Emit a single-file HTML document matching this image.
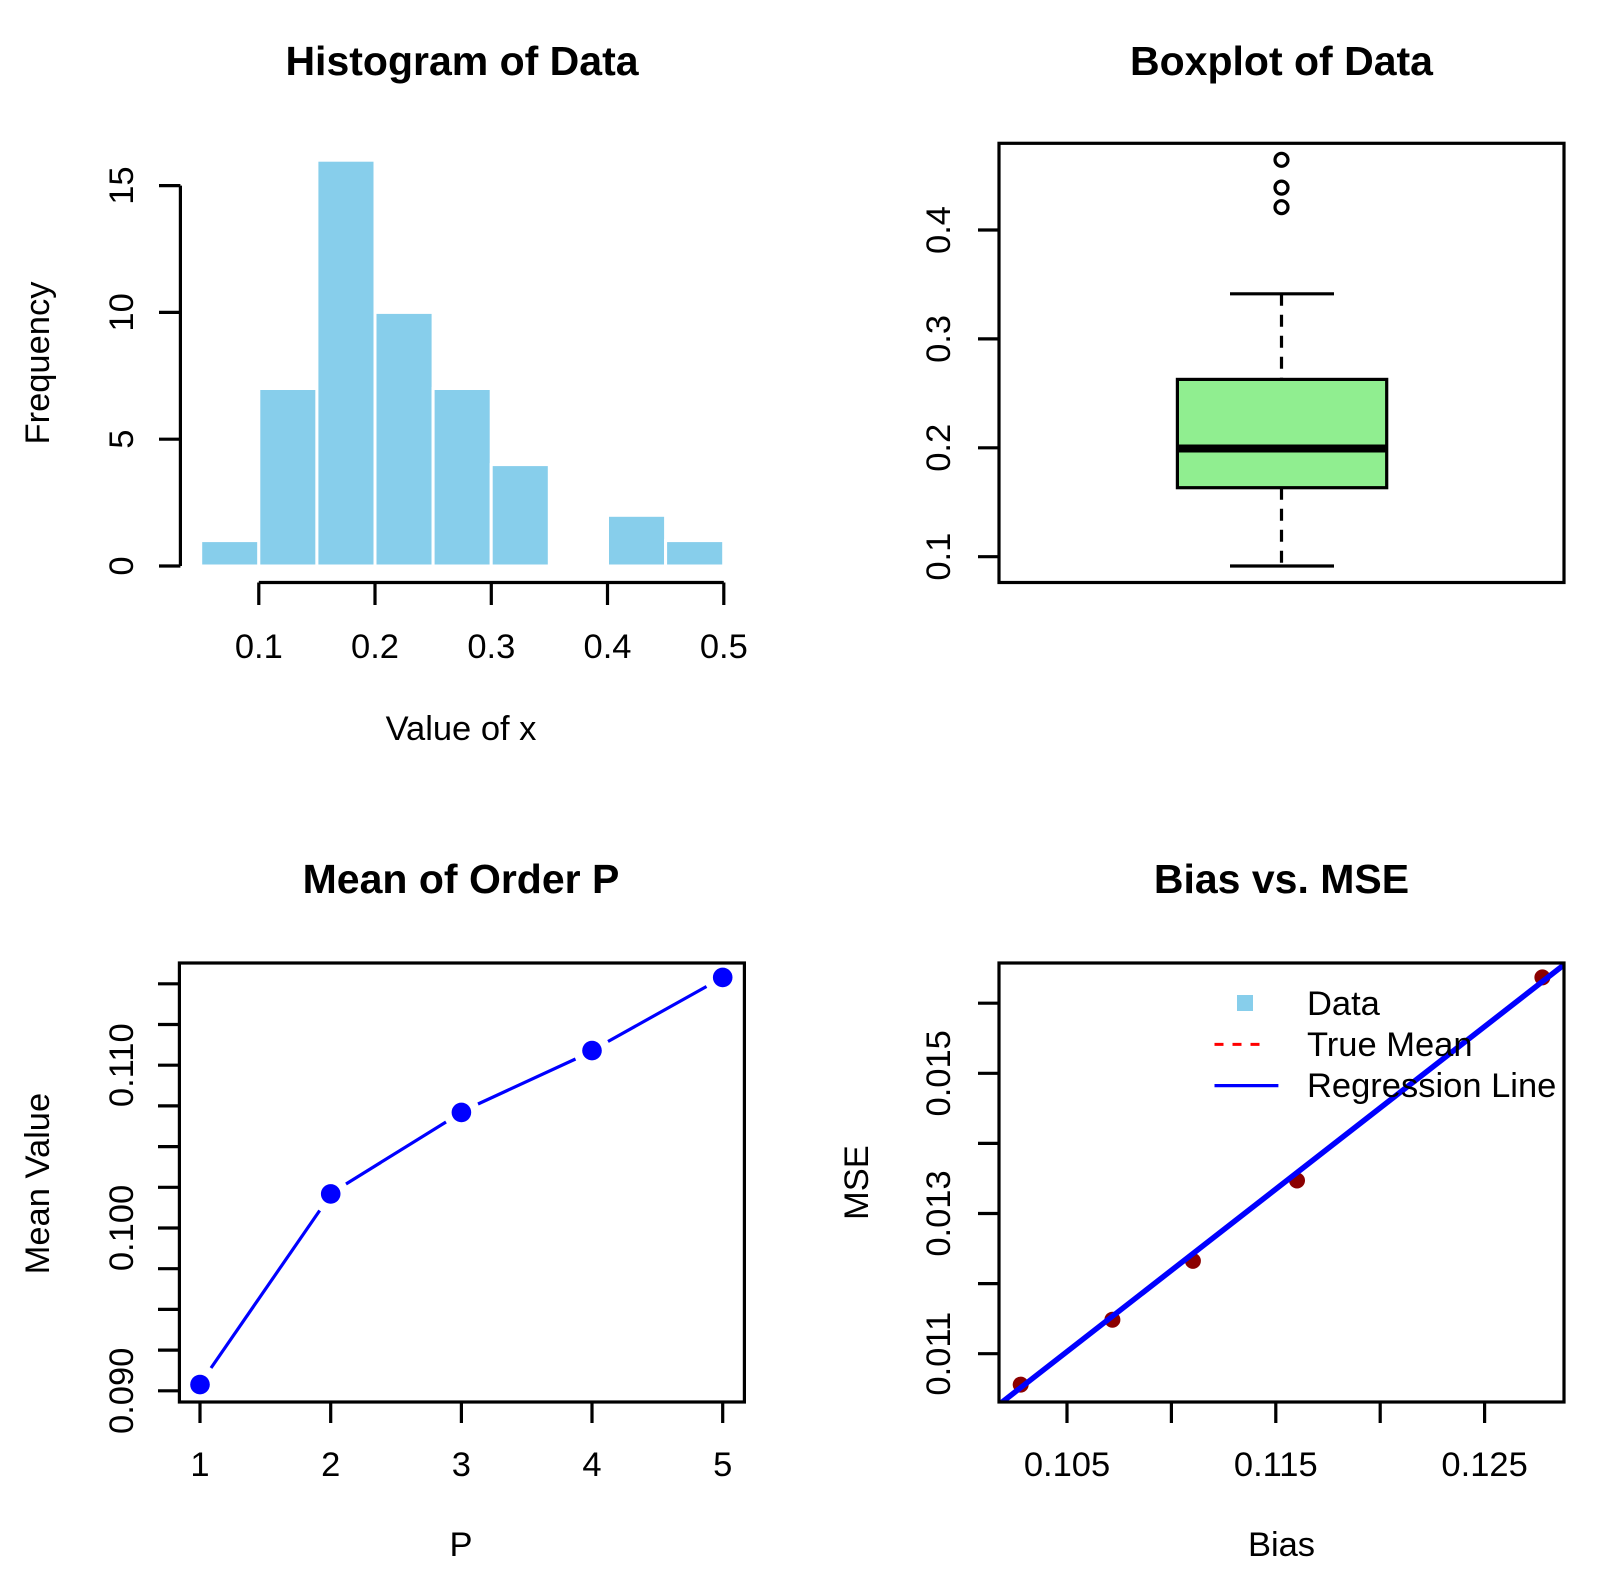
<!DOCTYPE html>
<html><head><meta charset="utf-8"><style>
html,body{margin:0;padding:0;background:#fff;}
svg{display:block;}
text{font-family:"Liberation Sans",Arial,sans-serif;fill:#000;}
.t{font-weight:bold;font-size:41px;}
.l{font-size:34.5px;}
</style></head><body>
<svg width="1616" height="1587" viewBox="0 0 1616 1587" xmlns="http://www.w3.org/2000/svg">
<rect width="1616" height="1587" fill="#fff"/>

<!-- Panel 1: Histogram -->
<text class="t" x="462" y="75" text-anchor="middle">Histogram of Data</text>
<g fill="#87CEEB" stroke="#fff" stroke-width="3">
<rect x="200.7" y="540.6" width="58.1" height="25.4"/>
<rect x="258.8" y="388.5" width="58.1" height="177.5"/>
<rect x="316.9" y="160.2" width="58.1" height="405.8"/>
<rect x="375.0" y="312.4" width="58.1" height="253.6"/>
<rect x="433.1" y="388.5" width="58.1" height="177.5"/>
<rect x="491.2" y="464.6" width="58.1" height="101.4"/>
<rect x="607.5" y="515.3" width="58.1" height="50.7"/>
<rect x="665.6" y="540.6" width="58.1" height="25.4"/>
</g>
<g stroke="#000" stroke-width="3.2" fill="none">
<path d="M180.4,566 V185.6 M159,566 H180.4 M159,439.2 H180.4 M159,312.4 H180.4 M159,185.6 H180.4"/>
<path d="M258.8,582.5 H723.8 M258.8,582.5 V605 M375,582.5 V605 M491.3,582.5 V605 M607.5,582.5 V605 M723.8,582.5 V605"/>
</g>
<g class="l" text-anchor="middle">
<text x="258.8" y="658">0.1</text><text x="375" y="658">0.2</text><text x="491.3" y="658">0.3</text><text x="607.5" y="658">0.4</text><text x="723.8" y="658">0.5</text>
<text x="461" y="740">Value of x</text>
<text transform="translate(133,566) rotate(-90)">0</text>
<text transform="translate(133,439.2) rotate(-90)">5</text>
<text transform="translate(133,312.4) rotate(-90)">10</text>
<text transform="translate(133,185.6) rotate(-90)">15</text>
<text transform="translate(49,363) rotate(-90)">Frequency</text>
</g>

<!-- Panel 2: Boxplot -->
<text class="t" x="1281.5" y="75" text-anchor="middle">Boxplot of Data</text>
<rect x="999" y="143.3" width="565" height="439.2" fill="none" stroke="#000" stroke-width="3.2"/>
<g stroke="#000" stroke-width="3.2" fill="none">
<path d="M978,556.7 H999 M978,447.8 H999 M978,338.9 H999 M978,230 H999"/>
<path d="M1281.5,487.7 V566 M1281.5,293.8 V379.4" stroke-dasharray="12,9"/>
<path d="M1230,566 H1334 M1230,293.8 H1334"/>
<rect x="1177.4" y="379.4" width="209.3" height="108.3" fill="#90EE90"/>
<circle cx="1281.5" cy="159.8" r="6.5"/><circle cx="1281.5" cy="187.6" r="6.5"/><circle cx="1281.5" cy="207.2" r="6.5"/>
</g>
<path d="M1177.4,448.5 H1386.7" stroke="#000" stroke-width="8"/>
<g class="l" text-anchor="middle">
<text transform="translate(950,556.7) rotate(-90)">0.1</text>
<text transform="translate(950,447.8) rotate(-90)">0.2</text>
<text transform="translate(950,338.9) rotate(-90)">0.3</text>
<text transform="translate(950,230) rotate(-90)">0.4</text>
</g>

<!-- Panel 3: Mean of Order P -->
<text class="t" x="461" y="893" text-anchor="middle">Mean of Order P</text>
<rect x="179.4" y="963" width="565" height="439" fill="none" stroke="#000" stroke-width="3.2"/>
<g stroke="#000" stroke-width="3.2" fill="none">
<path d="M200,1402 V1423 M330.7,1402 V1423 M461.4,1402 V1423 M592,1402 V1423 M722.7,1402 V1423"/>
<path d="M158,1390.8 H179.4 M158,1350.1 H179.4 M158,1309.4 H179.4 M158,1268.7 H179.4 M158,1228 H179.4 M158,1187.3 H179.4 M158,1146.6 H179.4 M158,1105.9 H179.4 M158,1065.2 H179.4 M158,1024.5 H179.4 M158,983.8 H179.4"/>
</g>
<g stroke="#0000FF" stroke-width="3.2" fill="none">
<path d="M211,1368 L319.7,1210.5"/>
<path d="M346,1184 L446,1122"/>
<path d="M478,1104 L575.5,1059"/>
<path d="M608,1041.5 L706.5,986.5"/>
</g>
<g fill="#0000FF">
<circle cx="200" cy="1384.6" r="9.8"/><circle cx="330.7" cy="1193.9" r="9.8"/><circle cx="461.4" cy="1112.4" r="9.8"/><circle cx="592" cy="1050.6" r="9.8"/><circle cx="722.7" cy="977.4" r="9.8"/>
</g>
<g class="l" text-anchor="middle">
<text x="200" y="1476">1</text><text x="330.7" y="1476">2</text><text x="461.4" y="1476">3</text><text x="592" y="1476">4</text><text x="722.7" y="1476">5</text>
<text x="461" y="1556">P</text>
<text transform="translate(133,1390.8) rotate(-90)">0.090</text>
<text transform="translate(133,1228) rotate(-90)">0.100</text>
<text transform="translate(133,1065.2) rotate(-90)">0.110</text>
<text transform="translate(49,1183.6) rotate(-90)">Mean Value</text>
</g>

<!-- Panel 4: Bias vs. MSE -->
<text class="t" x="1281.5" y="893" text-anchor="middle">Bias vs. MSE</text>
<g stroke="#000" stroke-width="3.2" fill="none">
<path d="M1067,1402 V1423 M1171.4,1402 V1423 M1275.8,1402 V1423 M1380.2,1402 V1423 M1484.6,1402 V1423"/>
<path d="M978,1353.7 H999 M978,1283.6 H999 M978,1213.5 H999 M978,1143.4 H999 M978,1073.3 H999 M978,1003.2 H999"/>
</g>
<g fill="#8B0000">
<circle cx="1020.7" cy="1384.6" r="8"/><circle cx="1112.4" cy="1319.7" r="8"/><circle cx="1192.9" cy="1260.9" r="8"/><circle cx="1297" cy="1180.5" r="8"/><circle cx="1542.4" cy="977.4" r="8"/>
</g>
<svg x="999" y="963" width="565" height="439" overflow="hidden">
<path d="M2,440 L566,1" stroke="#0000FF" stroke-width="5.5" fill="none"/>
</svg>
<rect x="999" y="963" width="565" height="439" fill="none" stroke="#000" stroke-width="3.2"/>
<rect x="1237" y="995" width="16" height="16" fill="#87CEEB"/>
<path d="M1214.5,1044.4 H1266" stroke="#FF0000" stroke-width="3" stroke-dasharray="9,9"/>
<path d="M1214.5,1085.6 H1278.4" stroke="#0000FF" stroke-width="3.2"/>
<g class="l">
<text x="1307" y="1015">Data</text>
<text x="1307" y="1056">True Mean</text>
<text x="1307" y="1097">Regression Line</text>
</g>
<g class="l" text-anchor="middle">
<text x="1067" y="1476">0.105</text><text x="1275.8" y="1476">0.115</text><text x="1484.6" y="1476">0.125</text>
<text x="1281.5" y="1556">Bias</text>
<text transform="translate(950,1353.7) rotate(-90)">0.011</text>
<text transform="translate(950,1213.5) rotate(-90)">0.013</text>
<text transform="translate(950,1073.3) rotate(-90)">0.015</text>
<text transform="translate(868,1182.6) rotate(-90)">MSE</text>
</g>
</svg>
</body></html>
